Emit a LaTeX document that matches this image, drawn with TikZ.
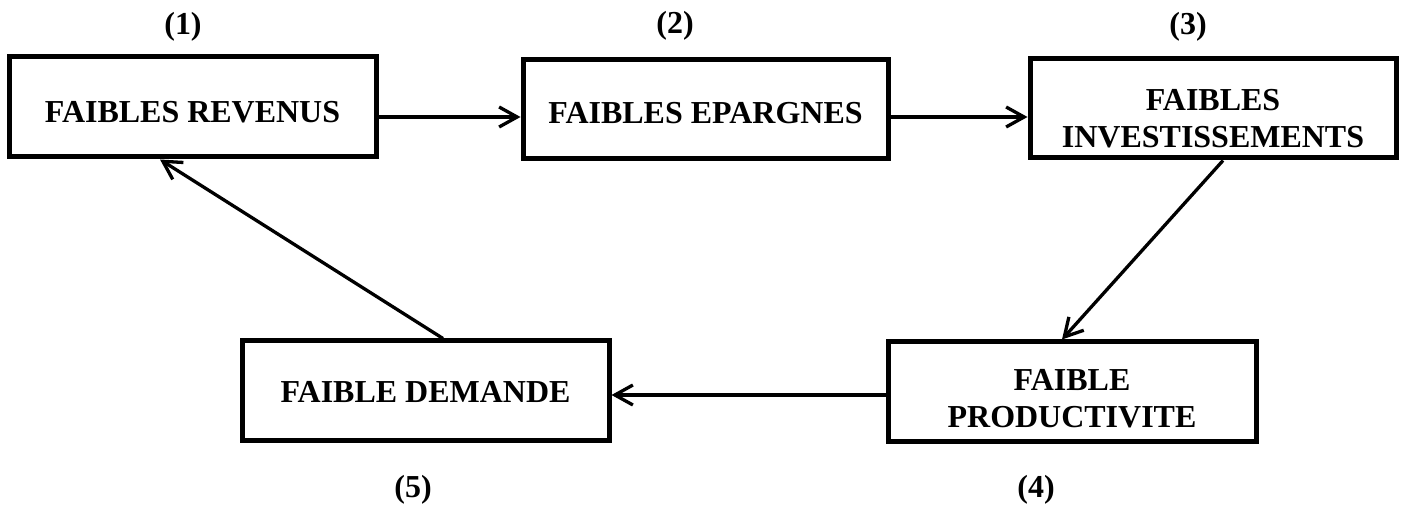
\documentclass[tikz,border=0pt]{standalone}
\usepackage{fontspec}
\setmainfont{Liberation Serif}
\usetikzlibrary{arrows.meta}
\begin{document}
\begin{tikzpicture}[x=0.1mm,y=-0.1mm,
  box/.style={draw,line width=0.5mm,inner sep=0pt,minimum height=9.9mm},
  txt/.style={font=\fontsize{9.1pt}{10.4pt}\selectfont\bfseries,align=center,inner sep=0pt},
  lbl/.style={font=\fontsize{9.1pt}{10.4pt}\selectfont\bfseries,inner sep=0pt},
  arr/.style={line width=0.33mm,-{Straight Barb[length=1.8mm,width=2.0mm]}}]
\useasboundingbox (0,0) rectangle (1405,508);
% boxes
\node[box,minimum width=36.7mm,minimum height=10mm] (b1) at (192.5,107) {};
\node[box,minimum width=36.5mm] (b2) at (705.5,109.5) {};
\node[box,minimum width=36.6mm] (b3) at (1213,108.5) {};
\node[box,minimum width=36.8mm] (b4) at (1072,391.5) {};
\node[box,minimum width=36.7mm] (b5) at (425.5,390.5) {};
% texts
\node[txt] (t1) at (192.5,112) {FAIBLES REVENUS};
\node[txt] (t2) at (705.5,113) {FAIBLES EPARGNES};
\node[txt] (t3) at (1213,118.5) {FAIBLES\\INVESTISSEMENTS};
\node[txt] (t4) at (1072,398.5) {FAIBLE\\PRODUCTIVITE};
\node[txt] (t5) at (425.5,392) {FAIBLE DEMANDE};
% labels
\node[lbl] (l1) at (183,27) {(1)};
\node[lbl] (l2) at (675,26) {(2)};
\node[lbl] (l3) at (1188,27) {(3)};
\node[lbl] (l4) at (1036,490) {(4)};
\node[lbl] (l5) at (413,490) {(5)};
% connectors
\draw[arr] ([yshift=-1mm]b1.east) -- ([yshift=-1mm]b1.east -| b2.west);
\draw[arr] ([yshift=-0.75mm]b2.east) -- ([yshift=-0.75mm]b2.east -| b3.west);
\draw[arr] ([xshift=1mm]b3.south) -- ([xshift=-1mm]b4.north);
\draw[arr] ([yshift=-0.35mm]b4.west) -- ([yshift=-0.35mm]b4.west -| b5.east);
\draw[arr] ([xshift=1.75mm]b5.north) -- ([xshift=-3.25mm]b1.south);
\end{tikzpicture}
\end{document}
